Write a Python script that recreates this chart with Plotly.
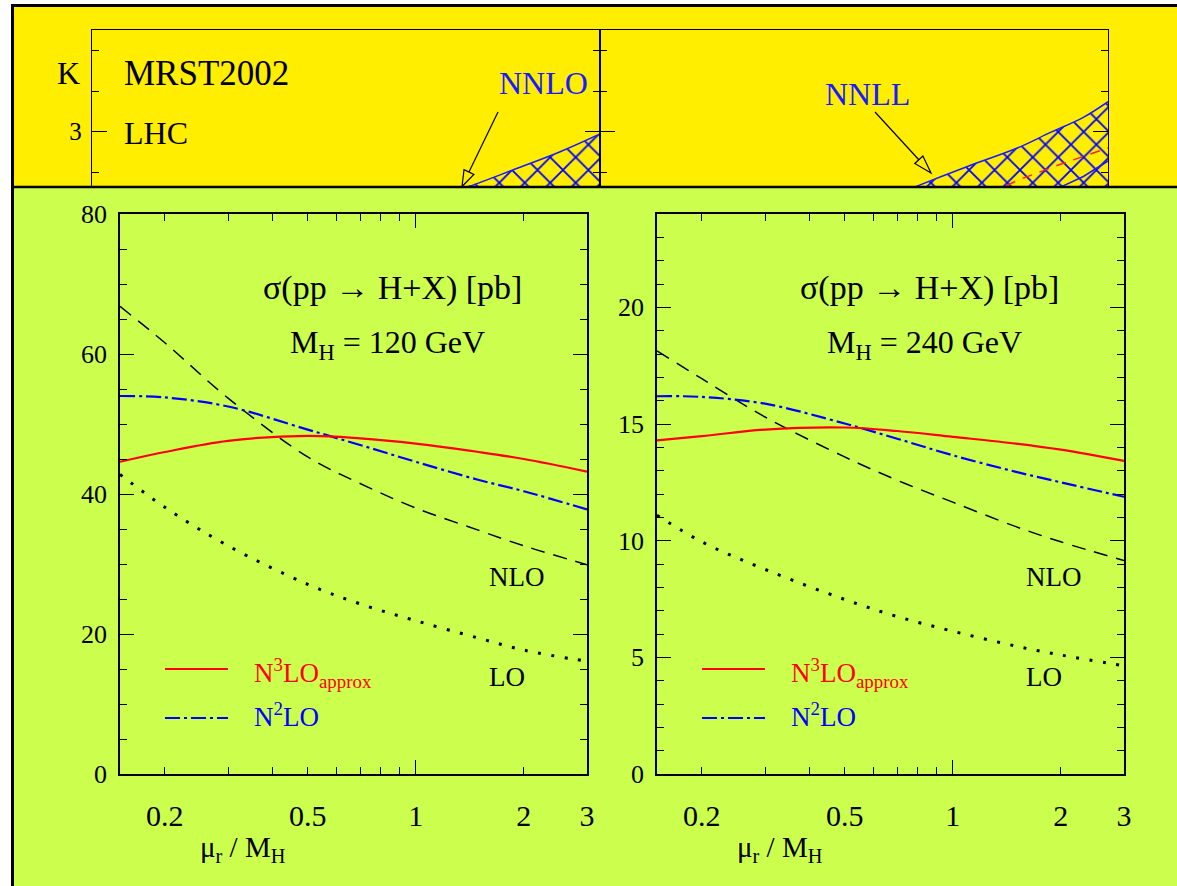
import math
import plotly.graph_objects as go

W, H = 1177, 886
SERIF = "Liberation Serif"

# ---- scale ratio mu_r / M_H where the curves are sampled ----
mu = [0.15, 0.2, 0.3, 0.5, 0.7, 1.0, 1.5, 2.0, 3.0]

# ---- sigma(pp -> H+X) [pb], M_H = 120 GeV ----
lo_120 = [42.8, 38.1, 32.6, 27.1, 24.3, 21.9, 19.4, 17.7, 16.1]
nlo_120 = [66.8, 61.6, 53.7, 45.3, 41.5, 38.0, 34.8, 32.6, 29.9]
n2lo_120 = [54.0, 53.8, 52.5, 49.2, 47.0, 44.6, 42.0, 40.4, 37.8]
n3lo_120 = [44.6, 46.0, 47.6, 48.3, 47.95, 47.2, 46.0, 45.0, 43.2]

# ---- sigma(pp -> H+X) [pb], M_H = 240 GeV ----
lo_240 = [11.09, 9.95, 8.77, 7.48, 6.75, 6.12, 5.48, 5.10, 4.64]
nlo_240 = [18.13, 16.94, 15.30, 13.59, 12.59, 11.65, 10.6, 9.95, 9.15]
n2lo_240 = [16.19, 16.16, 15.87, 15.02, 14.37, 13.66, 12.95, 12.50, 11.88]
n3lo_240 = [14.30, 14.48, 14.76, 14.85, 14.70, 14.45, 14.16, 13.90, 13.42]

x_tickvals = [0.2, 0.5, 1, 2, 3]
x_ticktext = ["0.2", "0.5", "1", "2", "3"]
x_minor = [0.3, 0.4, 0.6, 0.7, 0.8, 0.9]

# ---- K-factor strip (upper band) ----
k_nnlo_mu = [2.6, 3.08, 4.54, 6.97, 10.0]
k_nnlo_hi = [2.63, 2.666, 2.765, 2.877, 2.986]
k_nnll_mu = [1.5, 1.77, 2.78, 4.37, 5.91, 8.0, 10.0]
k_nnll_hi = [2.62, 2.666, 2.785, 2.898, 2.994, 3.088, 3.184]
k_nnll_lo_mu = [5.8, 6.47, 8.0, 10.0]
k_nnll_lo = [2.62, 2.658, 2.725, 2.82]
k_n3_mu = [3.43, 4.43, 6.5, 10.0]
k_n3_hi = [2.62, 2.703, 2.80, 2.90]
k_floor = 2.4


def px(x):
    return x / W


def py(y):
    return 1 - y / H


fig = go.Figure()

BLUE_DASH = "15px,4px,3px,4px"
BLACK_DASH = "14px,9px"
DOTS = "3px,10.5px"


def add_panel(xa, ya, lo, nlo, n2lo, n3lo):
    common = dict(x=mu, xaxis=xa, yaxis=ya, mode="lines", showlegend=False,
                  hoverinfo="skip")
    fig.add_trace(go.Scatter(y=lo, line=dict(color="black", width=3, dash=DOTS,
                                             shape="spline"), **common))
    fig.add_trace(go.Scatter(y=nlo, line=dict(color="black", width=1.5, dash=BLACK_DASH,
                                              shape="spline"), **common))
    fig.add_trace(go.Scatter(y=n2lo, line=dict(color="#0000ff", width=2.2, dash=BLUE_DASH,
                                               shape="spline"), **common))
    fig.add_trace(go.Scatter(y=n3lo, line=dict(color="#ff0000", width=2.2,
                                               shape="spline"), **common))


add_panel("x", "y", lo_120, nlo_120, n2lo_120, n3lo_120)
add_panel("x2", "y2", lo_240, nlo_240, n2lo_240, n3lo_240)

# invisible traces that attach the long-tick overlay axes to their subplots
for xa, ya in (("x5", "y"), ("x6", "y2")):
    fig.add_trace(go.Scatter(x=[1], y=[None], xaxis=xa, yaxis=ya, mode="lines",
                             showlegend=False, hoverinfo="skip"))

# K-factor strip: hatched NNLO band (left) and NNLL band (right)
hatch_blue = dict(shape="x", size=18, solidity=0.19, fgcolor="#0000ff",
                  bgcolor="rgba(0,0,0,0)")
fig.add_trace(go.Scatter(x=k_nnlo_mu, y=[k_floor] * len(k_nnlo_mu), xaxis="x3",
                         yaxis="y3", mode="lines", line=dict(width=0),
                         showlegend=False, hoverinfo="skip"))
fig.add_trace(go.Scatter(x=k_nnlo_mu, y=k_nnlo_hi, xaxis="x3", yaxis="y3",
                         mode="lines", fill="tonexty", fillcolor="rgba(0,0,0,0)",
                         fillpattern=hatch_blue,
                         line=dict(color="#1a1aff", width=1.5, shape="spline"),
                         showlegend=False, hoverinfo="skip"))
fig.add_trace(go.Scatter(x=k_nnll_mu, y=[k_floor] * len(k_nnll_mu), xaxis="x4",
                         yaxis="y4", mode="lines", line=dict(width=0),
                         showlegend=False, hoverinfo="skip"))
fig.add_trace(go.Scatter(x=k_nnll_mu, y=k_nnll_hi, xaxis="x4", yaxis="y4",
                         mode="lines", fill="tonexty", fillcolor="rgba(0,0,0,0)",
                         fillpattern=hatch_blue,
                         line=dict(color="#1a1aff", width=1.5, shape="spline"),
                         showlegend=False, hoverinfo="skip"))
fig.add_trace(go.Scatter(x=k_n3_mu, y=k_n3_hi, xaxis="x4", yaxis="y4",
                         mode="lines", line=dict(color="#ff2020", width=1.5,
                                                 dash="10px,8px"),
                         showlegend=False, hoverinfo="skip"))
fig.add_trace(go.Scatter(x=k_nnll_lo_mu, y=k_nnll_lo, xaxis="x4", yaxis="y4",
                         mode="lines", line=dict(color="#1a1aff", width=1.5),
                         showlegend=False, hoverinfo="skip"))

# ---- axes ----
FRAME = dict(showline=True, linecolor="black", linewidth=1.5, mirror="ticks",
             ticks="inside", tickcolor="black", tickwidth=1.3, showgrid=False,
             zeroline=False, automargin=False)
TOP_Y = py(214)
BOT_Y = py(774)
LOG_RANGE = [math.log10(0.15), math.log10(3)]


def main_xaxis(x0, x1, anchor):
    return dict(FRAME, type="log", range=LOG_RANGE, domain=[px(x0), px(x1)],
                anchor=anchor, tickvals=x_tickvals, ticktext=x_ticktext, ticklen=7,
                tickfont=dict(family=SERIF, size=30, color="black"),
                ticklabelstandoff=14,
                minor=dict(tickvals=x_minor, ticklen=7, ticks="inside",
                           tickcolor="black", tickwidth=1.3, showgrid=False))


def long_tick_axis(base, anchor):
    # the unit scale mark is drawn twice as long as the others
    return dict(type="log", range=LOG_RANGE, overlaying=base, anchor=anchor,
                showline=False, ticks="inside", tickvals=[1], ticklen=14,
                tickcolor="black", tickwidth=1.3, mirror="ticks",
                showticklabels=False, showgrid=False, zeroline=False,
                automargin=False)


layout_axes = dict(
    xaxis=main_xaxis(120, 587, "y"),
    xaxis2=main_xaxis(657, 1124, "y2"),
    xaxis5=long_tick_axis("x", "y"),
    xaxis6=long_tick_axis("x2", "y2"),
    yaxis=dict(FRAME, range=[0, 80], domain=[BOT_Y, TOP_Y], anchor="x",
               tick0=0, dtick=20, ticklen=14,
               minor=dict(dtick=5, ticklen=7, ticks="inside", tickcolor="black",
                          tickwidth=1.3, showgrid=False),
               tickfont=dict(family=SERIF, size=26, color="black"),
               ticklabelstandoff=6),
    yaxis2=dict(FRAME, range=[0, 24], domain=[BOT_Y, TOP_Y], anchor="x2",
                tick0=0, dtick=5, ticklen=14,
                minor=dict(dtick=1, ticklen=7, ticks="inside", tickcolor="black",
                           tickwidth=1.3, showgrid=False),
                tickfont=dict(family=SERIF, size=26, color="black"),
                ticklabelstandoff=6),
)

K_BOT = 3 - (186 - 131.7) / 162.8
K_TOP = 3 + (131.7 - 30) / 162.8
TOP_FRAME = dict(showline=True, linecolor="black", linewidth=1.3, showgrid=False,
                 zeroline=False, automargin=False)
for i, (x0, x1) in zip((3, 4), ((92, 600), (600, 1108))):
    layout_axes[f"xaxis{i}"] = dict(TOP_FRAME, type="log", range=[-1, 1],
                                    domain=[px(x0), px(x1)], anchor=f"y{i}",
                                    side="top", ticks="", showticklabels=False)
    layout_axes[f"yaxis{i}"] = dict(
        TOP_FRAME, range=[K_BOT, K_TOP], domain=[py(186), py(30)], anchor=f"x{i}",
        mirror="ticks", ticks="inside", tickcolor="black", tickwidth=1.3,
        tickvals=[3], ticktext=["3"], ticklen=15, showticklabels=(i == 3),
        tickfont=dict(family=SERIF, size=25, color="black"), ticklabelstandoff=4,
        minor=dict(tickvals=[2.75, 3.25, 3.5], ticklen=7, ticks="inside",
                   tickcolor="black", tickwidth=1.3, showgrid=False))

# ---- background bands and frame borders ----
shapes = [
    dict(type="rect", xref="paper", yref="paper", x0=px(12.5), x1=1, y0=py(187),
         y1=py(5.5), fillcolor="#ffee00", line=dict(width=0), layer="below"),
    dict(type="rect", xref="paper", yref="paper", x0=px(12.5), x1=1, y0=0,
         y1=py(187), fillcolor="#ccff4d", line=dict(width=0), layer="below"),
    dict(type="line", xref="paper", yref="paper", x0=px(11), x1=1, y0=py(5.5),
         y1=py(5.5), line=dict(color="black", width=3)),
    dict(type="line", xref="paper", yref="paper", x0=px(12.5), x1=px(12.5),
         y0=py(4), y1=0, line=dict(color="black", width=3)),
    dict(type="line", xref="paper", yref="paper", x0=px(11), x1=1, y0=py(187),
         y1=py(187), line=dict(color="black", width=2.6)),
]


def open_arrow(tail, tip, length=16, half=5.5):
    dx, dy = tip[0] - tail[0], tip[1] - tail[1]
    n = math.hypot(dx, dy)
    ux, uy = dx / n, dy / n
    bx, by = tip[0] - length * ux, tip[1] - length * uy
    p1 = (bx - half * uy, by + half * ux)
    p2 = (bx + half * uy, by - half * ux)
    line = dict(type="line", xref="paper", yref="paper", x0=px(tail[0]),
                y0=py(tail[1]), x1=px(bx), y1=py(by),
                line=dict(color="black", width=1.2))
    path = "M{},{} L{},{} L{},{} Z".format(px(tip[0]), py(tip[1]), px(p1[0]),
                                          py(p1[1]), px(p2[0]), py(p2[1]))
    head = dict(type="path", xref="paper", yref="paper", path=path,
                fillcolor="rgba(0,0,0,0)", line=dict(color="black", width=1.2))
    return [line, head]


shapes += open_arrow((498, 112), (462, 186.5))
shapes += open_arrow((875, 112), (931, 173), length=18, half=5.5)

# ---- text ----
ann = []


def text(x, y, s, size, color="black", xanchor="center", yanchor="middle"):
    ann.append(dict(x=px(x), y=py(y), xref="paper", yref="paper", text=s,
                    showarrow=False, xanchor=xanchor, yanchor=yanchor,
                    font=dict(family=SERIF, size=size, color=color)))


for dx, mass in ((0, "120"), (537, "240")):
    text(392 + dx, 288, "σ(pp → H+X) [pb]", 34)
    text(387 + dx, 344, "M<sub>H</sub> = " + mass + " GeV", 32)
    text(517 + dx, 577, "NLO", 27)
    text(507 + dx, 677, "LO", 27)
    text(252 + dx, 673, "N<sup>3</sup>LO<sub>approx</sub>", 27, "#ff0000", "left")
    text(252 + dx, 715, "N<sup>2</sup>LO", 27, "#0000ff", "left")
    text(198 + dx, 849, "μ<sub>r</sub> / M<sub>H</sub>", 29, "black", "left")
    shapes.append(dict(type="line", xref="paper", yref="paper", x0=px(165 + dx),
                       x1=px(228 + dx), y0=py(669), y1=py(669),
                       line=dict(color="#ff0000", width=2.2)))
    shapes.append(dict(type="line", xref="paper", yref="paper", x0=px(165 + dx),
                       x1=px(228 + dx), y0=py(718), y1=py(718),
                       line=dict(color="#0000ff", width=2.2, dash=BLUE_DASH)))

text(68, 73, "K", 32)
text(122, 73, "MRST2002", 35, xanchor="left")
text(122, 133, "LHC", 32, xanchor="left")
text(497, 83, "NNLO", 32, "#1a1aff", "left")
text(823, 94, "NNLL", 32, "#1a1aff", "left")

fig.update_layout(
    template="none",
    width=W, height=H, margin=dict(l=0, r=0, t=0, b=0, pad=0), autosize=False,
    paper_bgcolor="white", plot_bgcolor="rgba(0,0,0,0)",
    shapes=shapes, annotations=ann, showlegend=False,
    **layout_axes,
)

fig.write_html("out.html")
